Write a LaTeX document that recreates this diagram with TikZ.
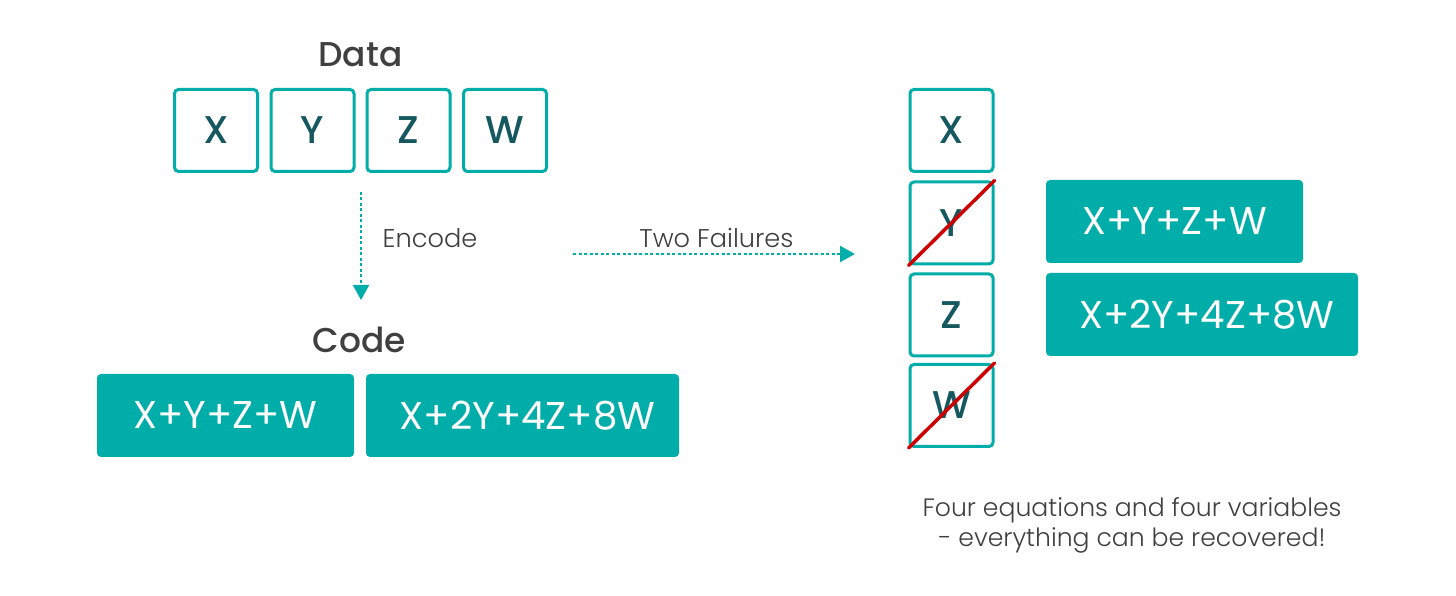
\documentclass[tikz,border=0pt]{standalone}
\usepackage{fontspec}
\setmainfont{Poppins}[UprightFont=* Light, BoldFont=* Medium]
\newfontfamily\cellfont{Poppins Medium}
\newfontfamily\regularfont{Poppins}
\usetikzlibrary{arrows.meta}
\tikzset {>={Triangle[length=1.5mm,width=1.6mm]}}
\definecolor{boxteal}{RGB}{0,173,168}
\definecolor{darkteal}{RGB}{22,88,96}
\definecolor{heading}{RGB}{64,64,64}
\definecolor{failred}{RGB}{204,0,0}
\tikzset{
  cell/.style={draw=boxteal, line width=0.3mm, rounded corners=0.4mm,
    minimum width=8.3mm, minimum height=8.2mm, inner sep=0pt,
    text=darkteal, font=\cellfont\fontsize{11}{12}\selectfont},
  codebox/.style={fill=boxteal, rounded corners=0.4mm, minimum height=8.3mm,
    inner sep=0pt, text=white, font=\regularfont\fontsize{11}{12}\selectfont},
  title/.style={text=heading, inner sep=0pt, font=\bfseries\fontsize{9.8}{12}\selectfont},
  note/.style={text=heading, inner sep=0pt, font=\fontsize{7.3}{9}\selectfont},
  flow/.style={->, draw=boxteal, line width=0.2mm, dash pattern=on 0.3mm off 0.25mm},
  cross/.style={draw=failred, line width=0.35mm, line cap=round}
}

\begin{document}
\begin{tikzpicture}
\fill[white, use as bounding box] (0,0) rectangle (14.56,5.95);
\node[title] (data) at (3.605,5.40) {Data};
\node[cell] (dx) at (2.16,4.645) {X};
\node[cell] (dy) at (3.125,4.645) {Y};
\node[cell] (dz) at (4.085,4.645) {Z};
\node[cell] (dw) at (5.05,4.645) {W};
\coordinate (encfrom) at (3.61,4.03);
\coordinate (encto) at (3.61,2.95);
\draw[flow] (encfrom) -- (encto);
\node[note, anchor=west] (encode) at (3.82,3.57) {Encode};
\node[title] (code) at (3.59,2.55) {Code};
\node[codebox, minimum width=25.7mm] (cone) at (2.255,1.795) {X+Y+Z+W};
\node[codebox, minimum width=31.3mm] (ctwo) at (5.225,1.795) {\hspace{1mm}X+2Y+4Z+8W};
\coordinate (failfrom) at (5.73,3.41);
\coordinate (failto) at (8.55,3.41);
\draw[flow] (failfrom) -- (failto);
\node[note] (fail) at (7.165,3.575) {Two Failures};
\node[cell] (rx) at (9.515,4.645) {X};
\node[cell] (ry) at (9.515,3.72) {Y};
\node[cell] (rz) at (9.515,2.80) {Z};
\node[cell] (rw) at (9.515,1.895) {W};
\draw[cross] (ry.south west) -- (ry.north east);
\draw[cross] (rw.south west) -- (rw.north east);
\node[codebox, minimum width=25.7mm] (rone) at (11.745,3.735) {X+Y+Z+W};
\node[codebox, minimum width=31.2mm] (rtwo) at (12.02,2.805) {\hspace{1mm}X+2Y+4Z+8W};
\node[note, align=center, anchor=north, font=\fontsize{7.15}{8.54}\selectfont] (result) at (11.32,0.985)
  {Four equations and four variables\\- everything can be recovered!};
\end{tikzpicture}
\end{document}
